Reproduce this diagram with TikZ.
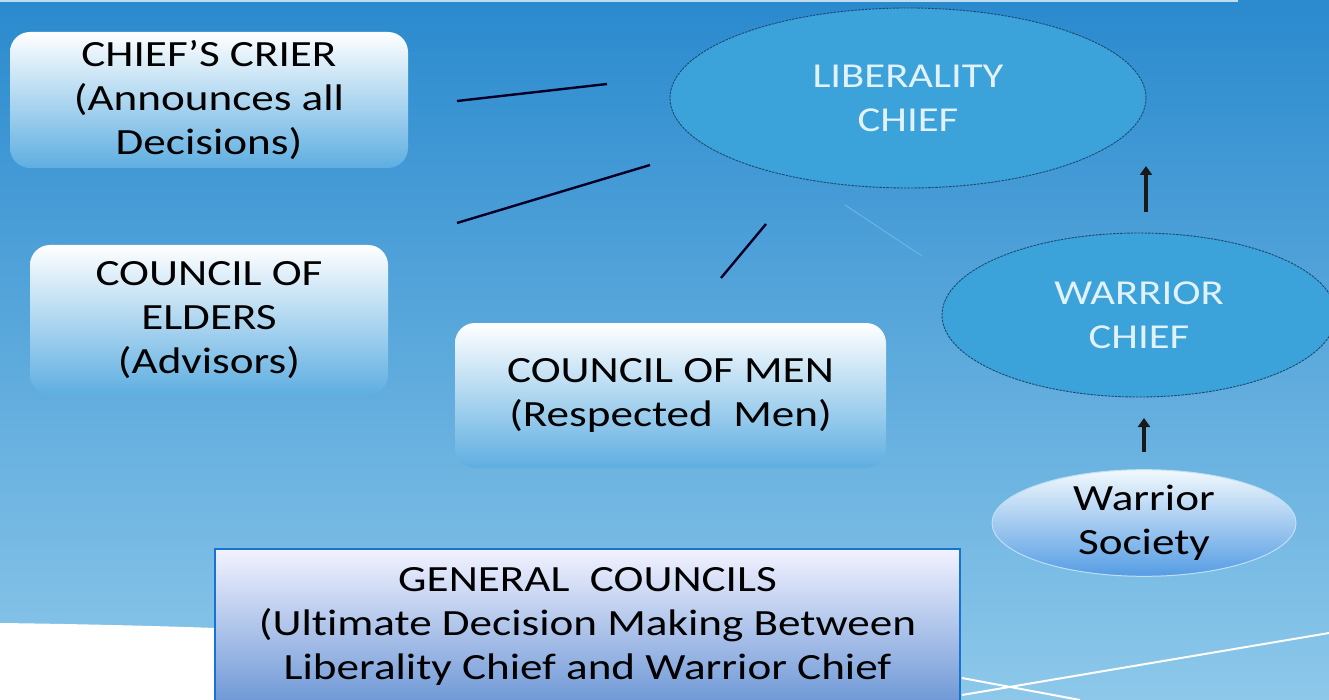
\documentclass[tikz,border=0pt]{standalone}
\usepackage{fontspec}
\setmainfont{Carlito}[FakeStretch=1.22,Ligatures=NoCommon]
\usetikzlibrary{shapes.geometric,arrows.meta}
\definecolor{bgtop}{HTML}{2A8ACE}
\definecolor{bgmid}{HTML}{4FA8DE}
\definecolor{bgbot}{HTML}{8DC8EA}
\definecolor{boxbot}{HTML}{5EAEE1}
\definecolor{genbot}{HTML}{6E98D6}
\definecolor{genedge}{HTML}{1A72D0}
\definecolor{ellfill}{HTML}{3CA2DA}
\definecolor{elledge}{HTML}{1B4A72}
\definecolor{elltext}{HTML}{E2F2FB}
\begin{document}
\begin{tikzpicture}[x=1pt,y=-1pt,
  txt/.style={align=center,text=black,font=\fontsize{37}{44}\selectfont},
  roundbox/.style={txt,rectangle,rounded corners=20pt,top color=white,bottom color=boxbot,inner sep=0pt},
  genbox/.style={txt,rectangle,draw=genedge,line width=2.5pt,top color=white!95!blue,bottom color=genbot,inner sep=0pt},
  chiefell/.style={ellipse,draw=elledge,line width=0.9pt,dash pattern=on 2.5pt off 1pt,fill=ellfill,inner sep=0pt,align=center,text=elltext,font=\fontsize{35}{44}\selectfont},
  socell/.style={txt,ellipse,draw=white!60!boxbot,line width=1pt,top color=white!92!boxbot,bottom color=boxbot!90!blue,inner sep=0pt},
  link/.style={line width=2.4pt,draw=black!85!blue},
  uparrow/.style={line width=3.2pt,draw=black!90,-{Triangle[length=9pt,width=12pt]}}
]
\useasboundingbox (0,0) rectangle (1329,700);
\clip (0,0) rectangle (1329,700);
% background
\shade[top color=bgtop,middle color=bgmid,bottom color=bgbot] (0,0) rectangle (1329,700);
\draw[white!70!bgtop,line width=1.5pt] (0,0.8) -- (1238,0.8);
\fill[white] (0,623) .. controls (80,624) and (160,626) .. (215,628) -- (215,700) -- (0,700) -- cycle;
\draw[white,line width=2pt] (962,695) -- (1329,633);
\draw[white,line width=2pt] (962,678) -- (1080,700);
\draw[white!20!bgmid,line width=0.8pt] (845,205) -- (922,256);

% nodes
\node[roundbox,minimum width=398pt,minimum height=136pt] (crier) at (209,100) {CHIEF'S CRIER\\(Announces all\\Decisions)};
\node[roundbox,minimum width=358pt,minimum height=150pt] (elders) at (209,320) {COUNCIL OF\\ELDERS\\(Advisors)};
\node[roundbox,minimum width=431pt,minimum height=145pt] (men) at (670.5,395.5) {COUNCIL OF MEN\\(Respected~ Men)};
\node[genbox,minimum width=745pt,minimum height=154pt] (gen) at (587.5,626) {GENERAL~ COUNCILS\\(Ultimate Decision Making Between\\Liberality Chief and Warrior Chief};
\node[chiefell,minimum width=476pt,minimum height=180pt] (lib) at (908,98) {LIBERALITY\\CHIEF};
\node[chiefell,minimum width=394pt,minimum height=164pt] (war) at (1139,315) {WARRIOR\\CHIEF};
\node[socell,minimum width=304pt,minimum height=101pt] (soc) at (1144,523) {Warrior\\Society};

% free line ends
\coordinate (a1) at (457,101); \coordinate (a2) at (607,84);
\coordinate (b1) at (457,223); \coordinate (b2) at (650,165);
\coordinate (c1) at (721,278); \coordinate (c2) at (766,224);
\draw[link] (a1) -- (a2);
\draw[link] (b1) -- (b2);
\draw[link] (c1) -- (c2);

\coordinate (w1) at (1146,212); \coordinate (w2) at (1146,166);
\coordinate (s1) at (1144,452); \coordinate (s2) at (1144,418);
\draw[uparrow] (w1) -- (w2);
\draw[uparrow] (s1) -- (s2);
\end{tikzpicture}
\end{document}
